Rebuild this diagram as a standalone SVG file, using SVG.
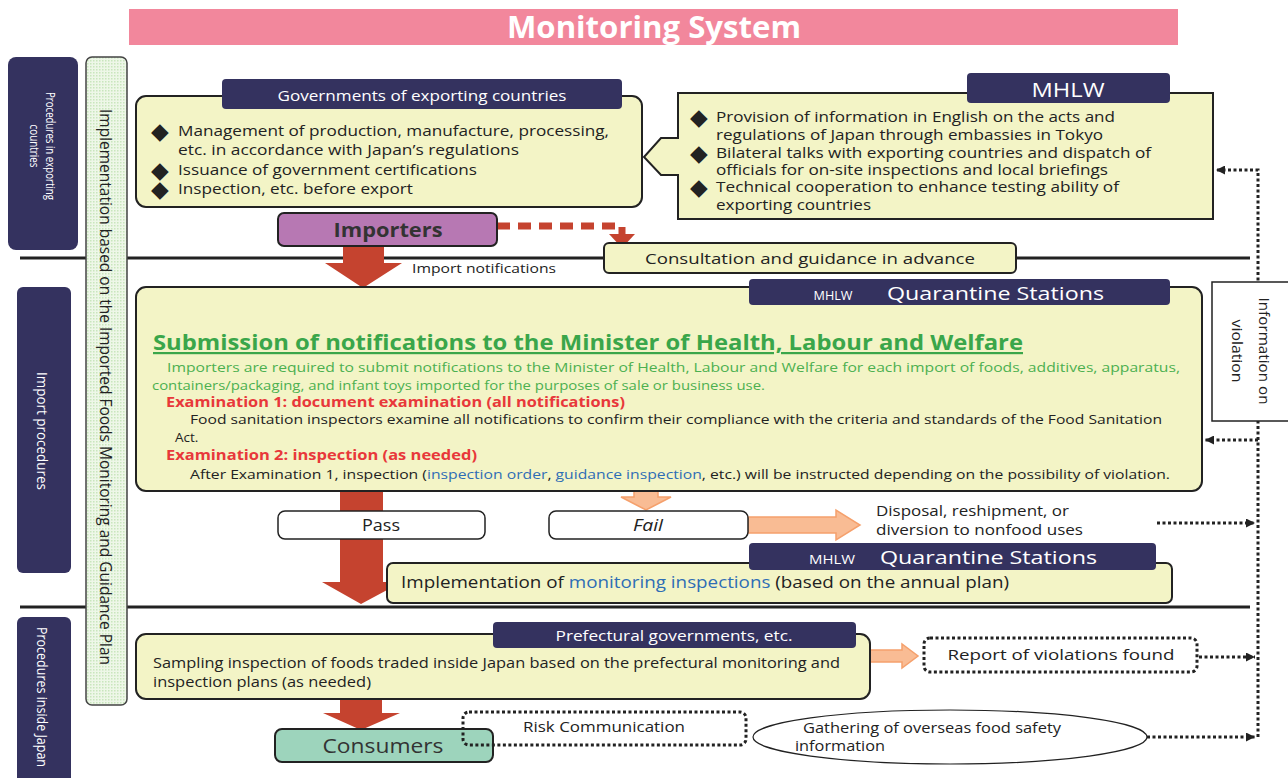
<svg xmlns="http://www.w3.org/2000/svg" width="1288" height="778" viewBox="0 0 1288 778">
<style>
text{font-family:"Open Sans","Noto Sans","Liberation Sans",sans-serif;fill:#222}
.nav{fill:#34325f}
.yb{fill:#f3f4c6;stroke:#222;stroke-width:2}
.rot{dominant-baseline:central;text-anchor:middle}
.dot{fill:none;stroke:#222;stroke-width:3;stroke-dasharray:3 2.5}
.red{fill:#c5432f}
.org{fill:#f9bc94;stroke:#f5a06c;stroke-width:1.5}
.g{fill:#4cb050}
.r{fill:#e8383a;font-weight:bold}
.bl{fill:#2e6db5}
.dia{font-family:"DejaVu Sans",sans-serif;font-size:23px}
</style>
<defs>
<pattern id="dp" width="3" height="3" patternUnits="userSpaceOnUse">
<rect width="3" height="3" fill="#eef7e8"/>
<rect width="1.5" height="1.5" fill="#c9e6bd"/>
</pattern>
<marker id="ah" viewBox="0 0 10 10" refX="10" refY="5" markerWidth="14" markerHeight="9" markerUnits="userSpaceOnUse" orient="auto">
<path d="M0,0 L10,5 L0,10 Z" fill="#222"/>
</marker>
</defs>

<g id="title">
<rect x="129" y="9" width="1049" height="36" fill="#f2879c"/>
<text x="654" y="38" text-anchor="middle" font-size="30" font-weight="bold" style="fill:#fff" textLength="294" lengthAdjust="spacingAndGlyphs">Monitoring System</text>
</g>

<g id="lanes">
<rect x="8" y="57" width="70" height="193" rx="8" class="nav"/>
<text transform="rotate(90 50 146)" x="50" y="146" class="rot" font-size="12" style="fill:#fff" textLength="108" lengthAdjust="spacingAndGlyphs">Procedures in exporting</text>
<text transform="rotate(90 34 146)" x="34" y="146" class="rot" font-size="12" style="fill:#fff" textLength="43" lengthAdjust="spacingAndGlyphs">countries</text>
<rect x="17" y="287" width="54" height="286" rx="6" class="nav"/>
<text transform="rotate(90 43 431)" x="43" y="431" class="rot" font-size="15" style="fill:#fff" textLength="118" lengthAdjust="spacingAndGlyphs">Import procedures</text>
<rect x="17" y="617" width="54" height="170" rx="6" class="nav"/>
<text transform="rotate(90 43 697)" x="43" y="697" class="rot" font-size="15" style="fill:#fff" textLength="140" lengthAdjust="spacingAndGlyphs">Procedures inside Japan</text>
<line x1="20" y1="258" x2="1250" y2="258" stroke="#222" stroke-width="3"/>
<line x1="20" y1="607" x2="1250" y2="607" stroke="#222" stroke-width="3"/>
</g>

<g id="plan">
<rect x="86" y="57" width="41" height="648" rx="6" fill="url(#dp)" stroke="#444" stroke-width="1.5"/>
<text transform="rotate(90 106 387)" x="106" y="387" class="rot" font-size="17" textLength="556" lengthAdjust="spacingAndGlyphs">Implementation based on the Imported Foods Monitoring and Guidance Plan</text>
</g>

<g id="connectors">
<path class="red" d="M343,246 H384 V263 H402 L363,288 L325,263 H343 Z"/>
<text x="412" y="273" font-size="13" textLength="144" lengthAdjust="spacingAndGlyphs">Import notifications</text>
<path d="M497,226 H622 V236" fill="none" stroke="#c5432f" stroke-width="7" stroke-dasharray="13 8"/>
<path class="red" d="M609,234 H635 L622,248 Z"/>
<path class="red" d="M340,491 H383 V582 H402 L361,604 L322,582 H340 Z"/>
<path class="org" d="M634,491 H658 V497 H671 L646,510 L621,497 H634 Z"/>
<path class="org" d="M748,517 H836 V510 L860,525 L836,540 V533 H748 Z"/>
<path class="org" d="M870,650 H902 V644 L918,656 L902,668 V662 H870 Z"/>
<path class="red" d="M340,699 H382 V713 H400 L361,730 L323,713 H340 Z"/>
<path class="dot" d="M1258,737 V170 H1216" marker-end="url(#ah)"/>
<path class="dot" d="M1258,440 H1205" marker-end="url(#ah)"/>
<path class="dot" d="M1157,523 H1255" marker-end="url(#ah)"/>
<path class="dot" d="M1199,657 H1255" marker-end="url(#ah)"/>
<path class="dot" d="M1147,737 H1255" marker-end="url(#ah)"/>
</g>

<g id="gov">
<rect x="136" y="96" width="506" height="111" rx="10" class="yb"/>
<rect x="222" y="79" width="400" height="30" rx="4" class="nav"/>
<text x="422" y="101" text-anchor="middle" font-size="15" style="fill:#fff" textLength="289" lengthAdjust="spacingAndGlyphs">Governments of exporting countries</text>
<text x="151" y="139" class="dia">◆</text>
<text x="178" y="136" font-size="15" textLength="431" lengthAdjust="spacingAndGlyphs">Management of production, manufacture, processing,</text>
<text x="178" y="155" font-size="15" textLength="341" lengthAdjust="spacingAndGlyphs">etc. in accordance with Japan’s regulations</text>
<text x="151" y="178" class="dia">◆</text>
<text x="178" y="175" font-size="15" textLength="299" lengthAdjust="spacingAndGlyphs">Issuance of government certifications</text>
<text x="151" y="197" class="dia">◆</text>
<text x="178" y="194" font-size="15" textLength="235" lengthAdjust="spacingAndGlyphs">Inspection, etc. before export</text>
</g>

<g id="mhlw">
<path d="M678,93 H1213 V219 H678 V175 H661 L644,157 L661,138 H678 Z" class="yb"/>
<rect x="967" y="73" width="203" height="30" rx="4" class="nav"/>
<text x="1068" y="97" text-anchor="middle" font-size="20" style="fill:#fff" textLength="73" lengthAdjust="spacingAndGlyphs">MHLW</text>
<text x="690" y="125" class="dia">◆</text>
<text x="716" y="122" font-size="14.5" textLength="399" lengthAdjust="spacingAndGlyphs">Provision of information in English on the acts and</text>
<text x="716" y="140" font-size="14.5" textLength="387" lengthAdjust="spacingAndGlyphs">regulations of Japan through embassies in Tokyo</text>
<text x="690" y="161" class="dia">◆</text>
<text x="716" y="158" font-size="14.5" textLength="435" lengthAdjust="spacingAndGlyphs">Bilateral talks with exporting countries and dispatch of</text>
<text x="716" y="175" font-size="14.5" textLength="392" lengthAdjust="spacingAndGlyphs">officials for on-site inspections and local briefings</text>
<text x="690" y="195" class="dia">◆</text>
<text x="716" y="192" font-size="14.5" textLength="403" lengthAdjust="spacingAndGlyphs">Technical cooperation to enhance testing ability of</text>
<text x="716" y="210" font-size="14.5" textLength="155" lengthAdjust="spacingAndGlyphs">exporting countries</text>
</g>

<g id="importers">
<rect x="278" y="213" width="219" height="33" rx="6" fill="#b778b3" stroke="#222" stroke-width="2"/>
<text x="388" y="237" text-anchor="middle" font-size="20" font-weight="bold" style="fill:#333" textLength="109" lengthAdjust="spacingAndGlyphs">Importers</text>
</g>

<g id="consultation">
<rect x="604" y="243" width="412" height="30" rx="5" class="yb"/>
<text x="810" y="264" text-anchor="middle" font-size="15" textLength="330" lengthAdjust="spacingAndGlyphs">Consultation and guidance in advance</text>
</g>

<g id="main">
<rect x="136" y="287" width="1066" height="204" rx="10" class="yb"/>
<rect x="749" y="279" width="421" height="26" rx="4" class="nav"/>
<text x="833" y="300" text-anchor="middle" font-size="12" style="fill:#fff" textLength="39" lengthAdjust="spacingAndGlyphs">MHLW</text>
<text x="887" y="300" font-size="19" style="fill:#fff" textLength="217" lengthAdjust="spacingAndGlyphs">Quarantine Stations</text>
<text x="153" y="350" font-size="22" font-weight="bold" text-decoration="underline" style="fill:#3aa64a" textLength="870" lengthAdjust="spacingAndGlyphs">Submission of notifications to the Minister of Health, Labour and Welfare</text>
<text x="167" y="372" font-size="13.5" class="g" textLength="1013" lengthAdjust="spacingAndGlyphs">Importers are required to submit notifications to the Minister of Health, Labour and Welfare for each import of foods, additives, apparatus,</text>
<text x="152" y="390" font-size="13.5" class="g" textLength="613" lengthAdjust="spacingAndGlyphs">containers/packaging, and infant toys imported for the purposes of sale or business use.</text>
<text x="166" y="407" font-size="14" class="r" textLength="459" lengthAdjust="spacingAndGlyphs">Examination 1: document examination (all notifications)</text>
<text x="190" y="424" font-size="13.5" textLength="972" lengthAdjust="spacingAndGlyphs">Food sanitation inspectors examine all notifications to confirm their compliance with the criteria and standards of the Food Sanitation</text>
<text x="175" y="442" font-size="13.5">Act.</text>
<text x="166" y="460" font-size="14" class="r" textLength="311" lengthAdjust="spacingAndGlyphs">Examination 2: inspection (as needed)</text>
<text x="190" y="479" font-size="13.5" textLength="980" lengthAdjust="spacingAndGlyphs">After Examination 1, inspection (<tspan class="bl">inspection order</tspan>, <tspan class="bl">guidance inspection</tspan>, etc.) will be instructed depending on the possibility of violation.</text>
</g>

<g id="pass">
<rect x="278" y="511" width="207" height="28" rx="7" fill="#fff" stroke="#222" stroke-width="1.5"/>
<text x="381" y="531" text-anchor="middle" font-size="16" textLength="38" lengthAdjust="spacingAndGlyphs">Pass</text>
</g>

<g id="fail">
<rect x="549" y="511" width="199" height="28" rx="7" fill="#fff" stroke="#222" stroke-width="1.5"/>
<text x="648" y="531" text-anchor="middle" font-size="16" font-style="italic" textLength="30" lengthAdjust="spacingAndGlyphs">Fail</text>
</g>

<g id="disposal">
<text x="876" y="516" font-size="14" textLength="193" lengthAdjust="spacingAndGlyphs">Disposal, reshipment, or</text>
<text x="876" y="535" font-size="14" textLength="207" lengthAdjust="spacingAndGlyphs">diversion to nonfood uses</text>
</g>

<g id="monitoring">
<rect x="387" y="563" width="785" height="40" rx="6" class="yb"/>
<rect x="749" y="543" width="407" height="27" rx="4" class="nav"/>
<text x="832" y="564" text-anchor="middle" font-size="13" style="fill:#fff" textLength="46" lengthAdjust="spacingAndGlyphs">MHLW</text>
<text x="880" y="564" font-size="19" style="fill:#fff" textLength="217" lengthAdjust="spacingAndGlyphs">Quarantine Stations</text>
<text x="401" y="588" font-size="16" textLength="608" lengthAdjust="spacingAndGlyphs">Implementation of <tspan class="bl">monitoring inspections</tspan> (based on the annual plan)</text>
</g>

<g id="prefectural">
<rect x="136" y="634" width="734" height="65" rx="10" class="yb"/>
<rect x="493" y="622" width="363" height="26" rx="4" class="nav"/>
<text x="674" y="641" text-anchor="middle" font-size="15" style="fill:#fff" textLength="237" lengthAdjust="spacingAndGlyphs">Prefectural governments, etc.</text>
<text x="153" y="668" font-size="14" textLength="687" lengthAdjust="spacingAndGlyphs">Sampling inspection of foods traded inside Japan based on the prefectural monitoring and</text>
<text x="153" y="687" font-size="14" textLength="218" lengthAdjust="spacingAndGlyphs">inspection plans (as needed)</text>
</g>

<g id="report">
<rect x="924" y="638" width="273" height="34" rx="6" class="dot"/>
<text x="1061" y="660" text-anchor="middle" font-size="15" textLength="227" lengthAdjust="spacingAndGlyphs">Report of violations found</text>
</g>

<g id="consumers">
<rect x="275" y="729" width="218" height="33" rx="7" fill="#9dd4bc" stroke="#222" stroke-width="2"/>
<text x="383" y="753" text-anchor="middle" font-size="20" style="fill:#333" textLength="121" lengthAdjust="spacingAndGlyphs">Consumers</text>
</g>

<g id="risk">
<rect x="463" y="712" width="283" height="33" rx="6" class="dot"/>
<text x="604" y="732" text-anchor="middle" font-size="14" textLength="162" lengthAdjust="spacingAndGlyphs">Risk Communication</text>
</g>

<g id="gathering">
<ellipse cx="950" cy="737" rx="197" ry="27" fill="#fff" stroke="#222" stroke-width="1.2"/>
<text x="803" y="733" font-size="14" textLength="258" lengthAdjust="spacingAndGlyphs">Gathering of overseas food safety</text>
<text x="795" y="751" font-size="14" textLength="90" lengthAdjust="spacingAndGlyphs">information</text>
</g>

<g id="info">
<rect x="1212" y="282" width="80" height="139" fill="#fff" stroke="#222" stroke-width="1.5"/>
<text transform="rotate(90 1265 351)" x="1265" y="351" class="rot" font-size="15" textLength="107" lengthAdjust="spacingAndGlyphs">Information on</text>
<text transform="rotate(90 1238 351)" x="1238" y="351" class="rot" font-size="15" textLength="63" lengthAdjust="spacingAndGlyphs">violation</text>
</g>
</svg>
